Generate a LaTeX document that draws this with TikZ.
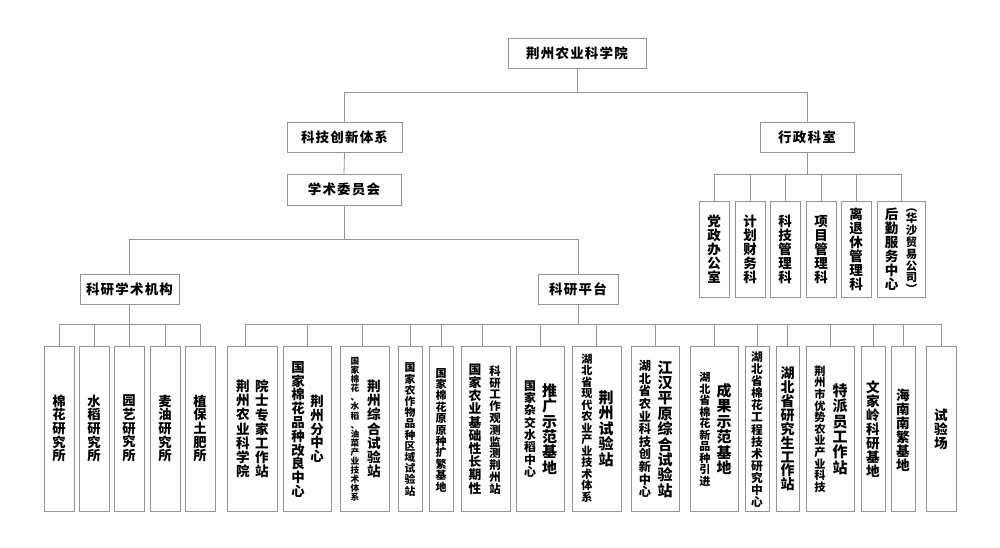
\documentclass[tikz,border=0pt]{standalone}
\usepackage{fontspec}
\newfontfamily\cjk{Noto Sans CJK SC}
\def\vcA#1{\ifx\relax#1\else\hbox{#1}\expandafter\vcA\fi}
\def\hsA#1{\ifx\relax#1\else#1\kern1.2pt\expandafter\hsA\fi}
\newcommand\hs[1]{\hsA#1\relax\kern-1.2pt}
\tikzset{
  bx/.style={draw=black!42, line width=0.8pt, inner sep=0pt, fill=white},
  ln/.style={draw=black!42, line width=0.8pt},
  tx/.style={inner sep=0pt, text=black}
}
\newcommand\bxn[5]{\node[bx,minimum width={#4-#2},minimum height={#5-#3}] (#1) at ({(#2+#4)/2},{(#3+#5)/2}) {};}
\newcommand\vt[6]{\node[tx] (#1) at (#2,#3) {\fontsize{#4}{#5}\selectfont\vbox{\baselineskip=#5pt\lineskiplimit=-50pt\lineskip=0pt\vcA#6\relax}};}
\begin{document}
\begin{tikzpicture}[x=1pt,y=-1pt,font=\cjk\bfseries\fontsize{13.5}{14}\selectfont]
\fill[white] (0,0) rectangle (1000,548);
\useasboundingbox (0,0) rectangle (1000,548);
% top boxes
\node[bx,minimum width=138pt,minimum height=30pt] (root) at (577,53) {\hs{荆州农业科学院}};
\node[bx,minimum width=115pt,minimum height=30pt] (kj) at (344.5,137) {\hs{科技创新体系}};
\node[bx,minimum width=94pt,minimum height=30pt] (xz) at (807,137) {\hs{行政科室}};
\node[bx,minimum width=114pt,minimum height=31pt] (xs) at (344,189.5) {\hs{学术委员会}};
\node[bx,minimum width=99pt,minimum height=30pt] (ky) at (129.5,289) {\hs{科研学术机构}};
\node[bx,minimum width=80pt,minimum height=30pt] (pt) at (578,289) {\hs{科研平台}};
% bus coordinates
\coordinate (tbus) at (577,92);
\coordinate (mbus) at (344,239);
\coordinate (abus) at (807,174);
\coordinate (lbus) at (130,324);
\coordinate (pbus) at (578,324);
% admin boxes
\bxn{a1}{699}{201}{729}{297}
\bxn{a2}{735}{201}{765}{297}
\bxn{a3}{770}{201}{800}{297}
\bxn{a4}{806}{201}{836}{297}
\bxn{a5}{841}{201}{871}{297}
\bxn{a6}{877}{201}{925}{297}
\vt{ta1}{714}{249.5}{13.5}{14}{党政办公室}
\vt{ta2}{750}{249.5}{13.5}{14}{计划财务科}
\vt{ta3}{785}{249.5}{13.5}{14}{科技管理科}
\vt{ta4}{821}{249.5}{13.5}{14}{项目管理科}
\vt{ta5}{856}{249.5}{13.5}{14}{离退休管理科}
\vt{ta6a}{891.5}{249.5}{13.5}{14}{后勤服务中心}
\vt{ta6b}{911.5}{251}{11.4}{11.8}{︵华沙贸易公司︶}
% left boxes
\bxn{l1}{44}{346}{74}{511}
\bxn{l2}{79}{346}{109}{511}
\bxn{l3}{114}{346}{144}{511}
\bxn{l4}{150}{346}{180}{511}
\bxn{l5}{185}{346}{215}{511}
\vt{tl1}{59}{428.5}{13.3}{13.7}{棉花研究所}
\vt{tl2}{94}{428.5}{13.3}{13.7}{水稻研究所}
\vt{tl3}{129}{428.5}{13.3}{13.7}{园艺研究所}
\vt{tl4}{165}{428.5}{13.3}{13.7}{麦油研究所}
\vt{tl5}{200}{428.5}{13.3}{13.7}{植保土肥所}
% platform boxes
\bxn{b1}{227}{346}{277}{511}
\bxn{b2}{283}{346}{331}{511}
\bxn{b3}{340}{346}{389}{511}
\bxn{b4}{398}{346}{422}{511}
\bxn{b5}{429}{346}{453}{511}
\bxn{b6}{461}{346}{510}{511}
\bxn{b7}{516}{346}{564}{511}
\bxn{b8}{572}{346}{621}{511}
\bxn{b9}{631}{346}{679}{511}
\bxn{b10}{690}{346}{738}{511}
\bxn{b11}{745}{346}{769}{511}
\bxn{b12}{776}{346}{799}{511}
\bxn{b13}{806}{346}{854}{511}
\bxn{b14}{861}{346}{885}{511}
\bxn{b15}{891}{346}{915}{511}
\bxn{b16}{926}{346}{956}{511}
\vt{tb1a}{243}{429}{13.6}{14.2}{荆州农业科学院}
\vt{tb1b}{262}{429}{13.6}{14.2}{院士专家工作站}
\vt{tb2a}{298}{429.5}{13.4}{13.8}{国家棉花品种改良中心}
\vt{tb2b}{317}{429}{13.4}{13.75}{荆州分中心}
\vt{tb3a}{355}{429.5}{8.7}{9.1}{国家棉花、水稻、油菜产业技术体系}
\vt{tb3b}{374}{429}{13.6}{14.2}{荆州综合试验站}
\vt{tb4}{410}{429.5}{10.8}{11.2}{国家农作物品种区域试验站}
\vt{tb5}{441}{430}{11}{11.4}{国家棉花原原种扩繁基地}
\vt{tb6a}{475}{429}{12.8}{13.2}{国家农业基础性长期性}
\vt{tb6b}{495}{430}{11.4}{11.8}{科研工作观测监测荆州站}
\vt{tb7a}{530}{429}{11.9}{12.3}{国家杂交水稻中心}
\vt{tb7b}{549.5}{429}{15}{15.4}{推广示范基地}
\vt{tb8a}{587}{428}{11.1}{11.5}{湖北省现代农业产业技术体系}
\vt{tb8b}{606}{428.5}{15}{15.5}{荆州试验站}
\vt{tb9a}{645}{429}{12.2}{12.6}{湖北省农业科技创新中心}
\vt{tb9b}{665}{429}{15}{15.4}{江汉平原综合试验站}
\vt{tb10a}{705}{429.5}{11.1}{11.5}{湖北省棉花新品种引进}
\vt{tb10b}{724}{429}{15}{15.4}{成果示范基地}
\vt{tb11}{757}{429.5}{11.7}{12.1}{湖北省棉花工程技术研究中心}
\vt{tb12}{787.5}{429}{14}{13.9}{湖北省研究生工作站}
\vt{tb13a}{820}{429}{11.2}{11.6}{荆州市优势农业产业科技}
\vt{tb13b}{840}{429}{15}{15.4}{特派员工作站}
\vt{tb14}{873}{429}{13.6}{14}{文家岭科研基地}
\vt{tb15}{903}{430}{13.6}{14}{海南南繁基地}
\vt{tb16}{941}{429}{13.6}{14}{试验场}
% connectors
\draw[ln] (root.south) -- (root.south |- tbus);
\draw[ln] (kj.north) |- (xz.north |- tbus) -- (xz.north);
\draw[ln] (kj.south) -- (xs.north);
\draw[ln] (xs.south) -- (xs.south |- mbus);
\draw[ln] (ky.north) |- (pt.north |- mbus) -- (pt.north);
\draw[ln] (xz.south) -- (xz.south |- abus);
\draw[ln] (a1.north) |- (a6.north |- abus) -- (a6.north);
\foreach \n in {a2,a3,a4,a5} \draw[ln] (\n.north) -- (\n.north |- abus);
\draw[ln] (ky.south) -- (ky.south |- lbus);
\draw[ln] (l1.north) |- (l5.north |- lbus) -- (l5.north);
\foreach \n in {l2,l3,l4} \draw[ln] (\n.north) -- (\n.north |- lbus);
\draw[ln] (pt.south) -- (pt.south |- pbus);
\draw[ln] ([xshift=-6.5pt]b1.north) |- (b16.north |- pbus) -- (b16.north);
\draw[ln] ([xshift=-2.5pt]b3.north) -- ([xshift=-2.5pt]b3.north |- pbus);
\draw[ln] ([xshift=-3.5pt]b6.north) -- ([xshift=-3.5pt]b6.north |- pbus);
\foreach \n in {b2,b4,b5,b7,b8,b9,b10,b11,b12,b13,b14,b15} \draw[ln] (\n.north) -- (\n.north |- pbus);
\end{tikzpicture}
\end{document}
